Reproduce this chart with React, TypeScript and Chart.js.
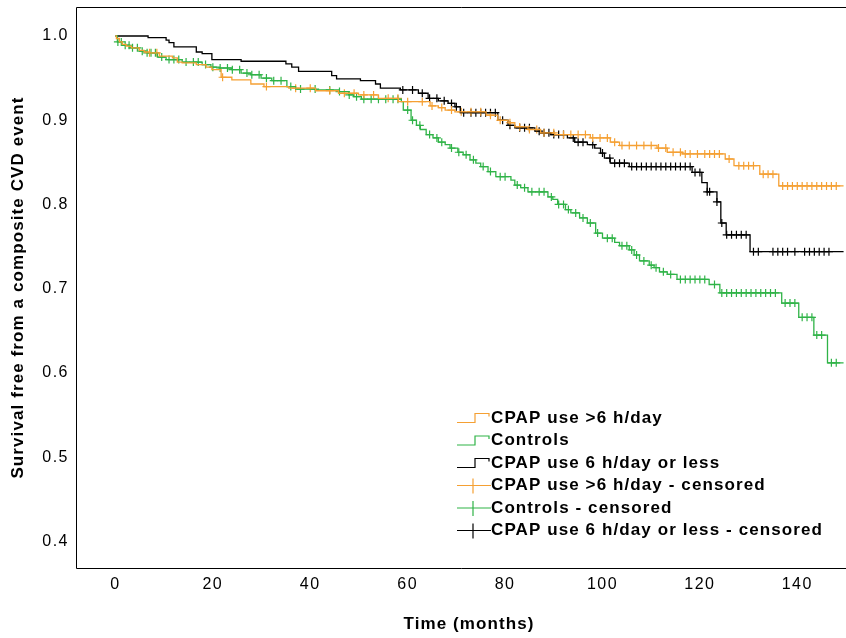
import React, { useEffect, useRef } from "react";
import { Chart, registerables } from "chart.js";

Chart.register(...registerables);

// ---- axis ranges / ticks ----
const X_MIN = -8.1;
const X_MAX = 150.0;
const Y_MIN = 0.3685;
const Y_MAX = 1.0344;
const xTickValues = [0, 20, 40, 60, 80, 100, 120, 140];
const yTickValues = [0.4, 0.5, 0.6, 0.7, 0.8, 0.9, 1.0];

const xTitle = "Time (months)";
const yTitle = "Survival free from a composite CVD event";

// ---- series labels / colours ----
const seriesLabels = ["CPAP use >6 h/day", "Controls", "CPAP use 6 h/day or less"];
const censoredLabels = [
  "CPAP use >6 h/day - censored",
  "Controls - censored",
  "CPAP use 6 h/day or less - censored",
];
const seriesColors = ["#f5a033", "#2fb347", "#000000"];

// ---- CPAP use >6 h/day (event times, survival after event) ----
const orangeTimes = [0, 0.2, 0.8, 1.4, 2.2, 3.3, 4.9, 5.9, 7, 9, 11.7, 12.7, 13.7, 16.6, 18.6, 19.8, 21.7, 23.9, 27.8, 30.5, 35.6, 41.1, 45.8, 49.9, 54, 58.1, 64.6, 66.3, 67.7, 69.7, 76.1, 78.5, 80.6, 82, 84.7, 87.3, 90.2, 97.5, 101.6, 103.5, 111.2, 113.3, 116.4, 125.2, 127, 132.3, 136.2];
const orangeSurv = [1.0, 0.997, 0.993, 0.99, 0.988, 0.986, 0.983, 0.981, 0.98, 0.976, 0.974, 0.969, 0.968, 0.966, 0.963, 0.96, 0.951, 0.948, 0.943, 0.94, 0.938, 0.935, 0.932, 0.93, 0.926, 0.922, 0.917, 0.915, 0.912, 0.91, 0.906, 0.9, 0.897, 0.892, 0.889, 0.885, 0.883, 0.879, 0.874, 0.87, 0.867, 0.862, 0.86, 0.854, 0.846, 0.836, 0.822];
const orangeCensored = [7, 8.5, 22, 31, 37, 40, 44, 47, 49, 51, 53, 56, 58, 60, 63, 65, 67, 69, 71, 73, 75, 77, 79, 81, 83, 85, 86.5, 88, 90, 92, 93.5, 95, 96.5, 98, 99.5, 101, 102.5, 104, 105.5, 107, 108.5, 110, 111.5, 113, 114.5, 116, 117, 118, 119.5, 121, 122, 123, 124, 126, 128, 129, 130, 131, 133, 134, 135, 137, 138, 139, 140, 141, 142, 143, 144, 145, 146, 147, 148];

// ---- Controls ----
const greenTimes = [0, 0.4, 1.4, 2.9, 4.9, 6.5, 8.6, 10.4, 13.7, 17.8, 19.6, 21.3, 23.9, 25.8, 27.8, 29.9, 32.1, 35.2, 37, 41.1, 45.8, 47.9, 48.9, 50.5, 58.7, 59.1, 60.7, 61.8, 62.6, 63.8, 65.2, 66.3, 67.7, 68.7, 70.3, 71.4, 72.8, 74, 75, 76.5, 78.1, 81.2, 82, 83.2, 84.7, 88.8, 89.8, 90.8, 92.4, 93.5, 95.3, 96.9, 98.6, 100, 102.5, 103.5, 105.5, 106.5, 107.6, 109.6, 110.6, 111.7, 113.3, 115.3, 121.9, 124.1, 136.8, 140.3, 143.4, 146.2];
const greenSurv = [1.0, 0.993, 0.989, 0.986, 0.982, 0.98, 0.975, 0.972, 0.969, 0.966, 0.963, 0.962, 0.96, 0.956, 0.954, 0.95, 0.947, 0.94, 0.937, 0.936, 0.934, 0.93, 0.928, 0.925, 0.922, 0.912, 0.9, 0.894, 0.889, 0.883, 0.879, 0.874, 0.871, 0.867, 0.862, 0.859, 0.853, 0.849, 0.845, 0.839, 0.833, 0.829, 0.823, 0.82, 0.815, 0.809, 0.806, 0.8, 0.794, 0.79, 0.784, 0.778, 0.766, 0.76, 0.755, 0.751, 0.746, 0.74, 0.733, 0.728, 0.725, 0.72, 0.717, 0.711, 0.705, 0.695, 0.683, 0.666, 0.645, 0.612];
const greenCensored = [0.5, 1.2, 2, 2.8, 3.5, 4.5, 5.5, 6.5, 7.3, 8.2, 9.5, 11, 12, 13, 14.5, 16, 17, 18.5, 20, 21.5, 23, 24, 25.5, 27, 28, 29.5, 31, 32.5, 34, 36, 38, 41, 44, 46, 48, 49.5, 51, 52.5, 54, 55.5, 57, 58, 60, 61, 62.5, 64.5, 66, 67, 69, 70.5, 72, 73.5, 75.5, 77, 79, 80, 82.5, 84, 85.5, 87, 88, 89.5, 91, 92, 93, 94.5, 96, 97.5, 99, 101, 102, 104, 105, 106, 107, 108.5, 110, 111, 112.5, 114, 116, 117, 118, 119, 120, 121, 123, 124.5, 125.5, 126.5, 127.5, 128.5, 129.5, 130.5, 131.5, 132.5, 133.5, 134.5, 135.5, 137.5, 138.5, 139.5, 141, 142, 143, 144, 145, 147, 148];

// ---- CPAP use 6 h/day or less ----
const blackTimes = [0, 6.7, 10.4, 11, 12, 16.6, 17.8, 19.8, 25.8, 35, 36.2, 37.6, 44.4, 45.4, 50.3, 53.4, 54.4, 58.5, 62.2, 64.2, 66.3, 68.3, 69.7, 70.8, 78.5, 80.6, 82, 86.1, 87.3, 89.4, 92.8, 94.3, 96.9, 98.4, 99.6, 100.4, 101.6, 105.5, 118.4, 120.4, 121.5, 123.5, 124.3, 125.4, 130.3];
const blackSurv = [1.0, 0.998, 0.995, 0.992, 0.987, 0.981, 0.979, 0.972, 0.97, 0.967, 0.963, 0.958, 0.953, 0.949, 0.947, 0.943, 0.938, 0.936, 0.932, 0.926, 0.923, 0.92, 0.916, 0.909, 0.9, 0.894, 0.891, 0.887, 0.885, 0.883, 0.879, 0.874, 0.871, 0.867, 0.861, 0.855, 0.849, 0.845, 0.838, 0.826, 0.815, 0.803, 0.778, 0.764, 0.744];
const blackCensored = [59, 61, 63, 64.5, 66, 67.5, 69, 70, 71.5, 73, 74, 75, 76, 77, 78, 79.5, 81, 83, 84, 85, 87, 88, 89, 90, 91, 92, 94, 95, 96, 98, 100, 101.5, 102.5, 103.5, 104.5, 106, 107, 108, 109, 110, 111, 112, 113, 114, 115, 116, 117, 118, 119, 120, 121.5, 122, 123.5, 124.5, 125.5, 126.5, 127.5, 128.5, 129.5, 131, 132, 135, 136, 137, 138, 139.5, 141.5, 142.5, 143.5, 144.5, 145.5, 146.5];

const FOLLOW_UP_END = 149.5;

function survivalAt(times: number[], surv: number[], t: number) {
  let v = surv[0];
  for (let i = 0; i < times.length; i++) if (times[i] <= t) v = surv[i];
  return v;
}

function curve(times: number[], surv: number[]) {
  const pts = times.map((t, i) => ({ x: t, y: surv[i] }));
  pts.push({ x: FOLLOW_UP_END, y: surv[surv.length - 1] });
  return pts;
}

function marks(times: number[], surv: number[], cens: number[]) {
  return cens.map((t) => ({ x: t, y: survivalAt(times, surv, t) }));
}

const FONT = "'Liberation Sans', Arial, Helvetica, sans-serif";

function zeroPadding(s: any) {
  s.paddingLeft = 0;
  s.paddingRight = 0;
  s.paddingTop = 0;
  s.paddingBottom = 0;
}

const decorPlugin = {
  id: "decor",
  beforeUpdate(chart: any) {
    chart.ctx.letterSpacing = "1.5px";
  },
  afterDraw(chart: any) {
    const { ctx, chartArea } = chart;
    ctx.save();
    const L = Math.round(chartArea.left) + 0.5;
    const T = Math.round(chartArea.top) + 0.5;
    const B = Math.round(chartArea.bottom) + 0.5;
    // clear anything on the open right side of the frame
    ctx.fillStyle = "#fff";
    ctx.fillRect(chart.width - 1.5, T + 0.5, 2, B - T - 1);
    // frame: left, top, bottom
    ctx.strokeStyle = "#000";
    ctx.lineWidth = 1;
    ctx.beginPath();
    ctx.moveTo(chart.width, T);
    ctx.lineTo(L, T);
    ctx.lineTo(L, B);
    ctx.lineTo(chart.width, B);
    ctx.stroke();

    ctx.fillStyle = "#000";
    ctx.font = `bold 17px ${FONT}`;
    ctx.letterSpacing = "1.1px";
    ctx.textAlign = "center";
    ctx.textBaseline = "middle";
    ctx.fillText(xTitle, 469, 624);
    ctx.save();
    ctx.translate(18, 287.5);
    ctx.rotate(-Math.PI / 2);
    ctx.fillText(yTitle, 0, 0);
    ctx.restore();

    // legend
    const labels = [...seriesLabels, ...censoredLabels];
    const rowY0 = 418;
    const rowStep = 22.5;
    ctx.textAlign = "left";
    labels.forEach((lab, i) => {
      const y = rowY0 + i * rowStep;
      const col = seriesColors[i % 3];
      ctx.strokeStyle = col;
      ctx.lineWidth = 1.2;
      ctx.beginPath();
      if (i < 3) {
        ctx.moveTo(457, y + 4.5);
        ctx.lineTo(475, y + 4.5);
        ctx.lineTo(475, y - 4.5);
        ctx.lineTo(489, y - 4.5);
        ctx.lineTo(489, y - 1.5);
      } else {
        ctx.moveTo(457, y);
        ctx.lineTo(491, y);
        ctx.moveTo(473, y - 7);
        ctx.lineTo(473, y + 8);
      }
      ctx.stroke();
      ctx.fillStyle = "#000";
      ctx.fillText(lab, 491, y);
    });
    ctx.restore();
  },
};

export default function App() {
  const ref = useRef<HTMLCanvasElement>(null);
  useEffect(() => {
    const canvas = ref.current!;
    const series = [
      [orangeTimes, orangeSurv, orangeCensored],
      [greenTimes, greenSurv, greenCensored],
      [blackTimes, blackSurv, blackCensored],
    ] as number[][][];
    const lineSets = series.map((s, i) => ({
      type: "line",
      label: seriesLabels[i],
      data: curve(s[0], s[1]),
      borderColor: seriesColors[i],
      borderWidth: 1.3,
      stepped: "before",
      pointRadius: 0,
      fill: false,
      tension: 0,
    }));
    const censSets = series.map((s, i) => ({
      type: "scatter",
      label: censoredLabels[i],
      data: marks(s[0], s[1], s[2]),
      borderColor: seriesColors[i],
      backgroundColor: seriesColors[i],
      pointStyle: "cross",
      pointRadius: 4,
      borderWidth: 1.2,
      showLine: false,
    }));
    const chart = new Chart(canvas, {
      type: "line",
      data: { datasets: [...lineSets, ...censSets] as any },
      options: {
        responsive: false,
        devicePixelRatio: 1,
        animation: false,
        events: [],
        layout: { autoPadding: false, padding: { top: 7, left: 0, right: 0, bottom: 0 } },
        plugins: { legend: { display: false }, tooltip: { enabled: false } },
        scales: {
          x: {
            type: "linear",
            min: X_MIN,
            max: X_MAX,
            afterBuildTicks: (s: any) => {
              s.ticks = xTickValues.map((v) => ({ value: v }));
            },
            afterFit: (s: any) => {
              s.height = 70;
              zeroPadding(s);
            },
            grid: { display: false, drawTicks: false },
            border: { display: false },
            ticks: {
              padding: 7,
              color: "#000",
              maxRotation: 0,
              autoSkip: false,
              font: { family: FONT, size: 16 },
              callback: (v: any) => String(v),
            },
          },
          y: {
            type: "linear",
            min: Y_MIN,
            max: Y_MAX,
            afterBuildTicks: (s: any) => {
              s.ticks = yTickValues.map((v) => ({ value: v }));
            },
            afterFit: (s: any) => {
              s.width = 76;
              zeroPadding(s);
            },
            grid: { display: false, drawTicks: false },
            border: { display: false },
            ticks: {
              padding: 7,
              color: "#000",
              autoSkip: false,
              font: { family: FONT, size: 16 },
              callback: (v: any) => Number(v).toFixed(1),
            },
          },
        },
      } as any,
      plugins: [decorPlugin as any],
    });
    return () => chart.destroy();
  }, []);
  return (
    <div style={{ position: "fixed", left: 0, top: 0, width: 846, height: 638, background: "#fff", overflow: "hidden" }}>
      <canvas ref={ref} width={846} height={638} style={{ display: "block" }} />
    </div>
  );
}
